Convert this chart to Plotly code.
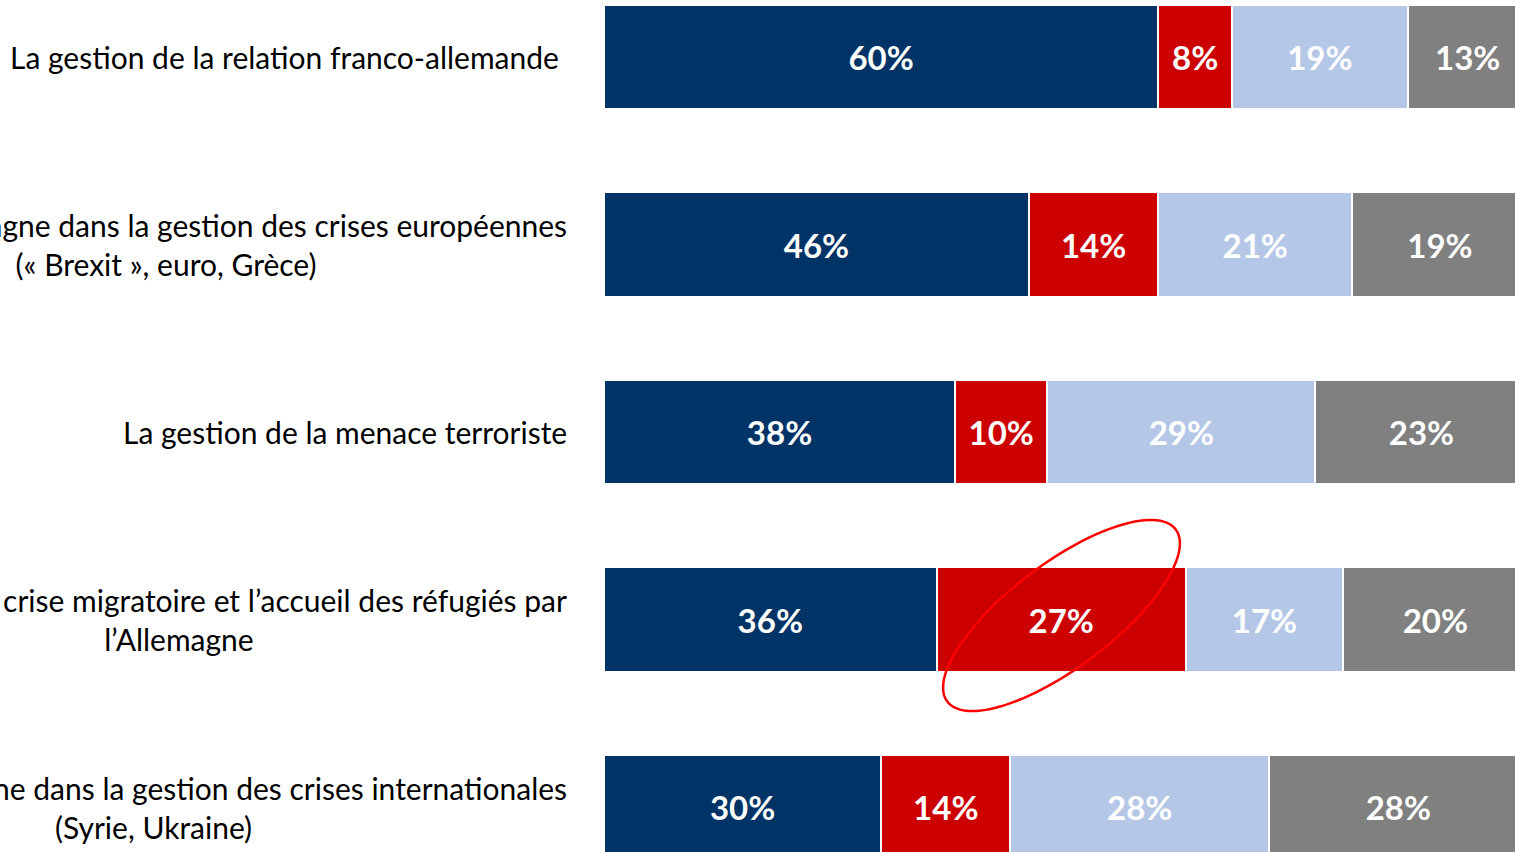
import numpy as np
import plotly.graph_objects as go

# rows from top to bottom
labels = [
    "La gestion de la relation franco-allemande",
    "Le rôle de l’Allemagne dans la gestion des crises européennes<br>(« Brexit », euro, Grèce)",
    "La gestion de la menace terroriste",
    "La gestion de la crise migratoire et l’accueil des réfugiés par<br>l’Allemagne",
    "Le rôle de l’Allemagne dans la gestion des crises internationales<br>(Syrie, Ukraine)",
]
bien = [60, 46, 38, 36, 30]
mal = [8, 14, 10, 27, 14]
ni_ni = [19, 21, 29, 17, 28]
nsp = [13, 19, 23, 20, 28]

series = [bien, mal, ni_ni, nsp]
colors = ["#003366", "#CC0000", "#B4C7E7", "#808080"]

W, H = 1515, 852
left = 604
px_per_pct = 9.237
row_pitch = 187.5
first_row = 57

rows = list(range(len(labels)))

fig = go.Figure()
for vals, col in zip(series, colors):
    fig.add_trace(go.Bar(
        y=rows, x=vals, orientation="h",
        marker=dict(color=col, line=dict(color="white", width=2)),
        width=0.555,
        text=[f"{v}%" for v in vals],
        textposition="inside", insidetextanchor="middle", textangle=0,
        textfont=dict(family="Lato", size=33, color="white", weight="bold"),
        hoverinfo="skip",
    ))

x_max = (W - left) / px_per_pct
label_x = [561, 569, 569, 569, 569]
for i, (lab, lx) in enumerate(zip(labels, label_x)):
    fig.add_annotation(
        x=(lx - left) / (W - left), xref="paper", xanchor="right",
        y=i, yref="y", yanchor="middle",
        text=lab, showarrow=False, align="center",
        font=dict(family="Lato", size=30, color="#000000"),
    )

# red ellipse around the 27% segment
cx, cy, a, b, ang = 1061.5, 615.5, 143, 52, np.deg2rad(-37)
t = np.linspace(0, 2 * np.pi, 120)
ex = cx + a * np.cos(t) * np.cos(ang) - b * np.sin(t) * np.sin(ang)
ey = cy + a * np.cos(t) * np.sin(ang) + b * np.sin(t) * np.cos(ang)
dx = (ex - left) / px_per_pct
dy = (ey - first_row) / row_pitch
path = "M " + " L ".join(f"{x:.3f},{y:.4f}" for x, y in zip(dx, dy)) + " Z"
fig.add_shape(type="path", path=path, xref="x", yref="y",
              line=dict(color="#FF0000", width=2.5), layer="above")

fig.update_layout(
    barmode="stack", showlegend=False,
    width=W, height=H,
    margin=dict(l=left, r=0, t=0, b=0),
    plot_bgcolor="white", paper_bgcolor="white",
    uniformtext=dict(minsize=33, mode="show"),
    xaxis=dict(range=[0, x_max], visible=False, fixedrange=True),
    yaxis=dict(range=[(H - first_row) / row_pitch, -first_row / row_pitch],
               visible=False, fixedrange=True),
)

fig.write_html("out.html", config={"displayModeBar": False},
               post_script="document.body.style.margin='0';document.body.style.overflow='hidden';")
